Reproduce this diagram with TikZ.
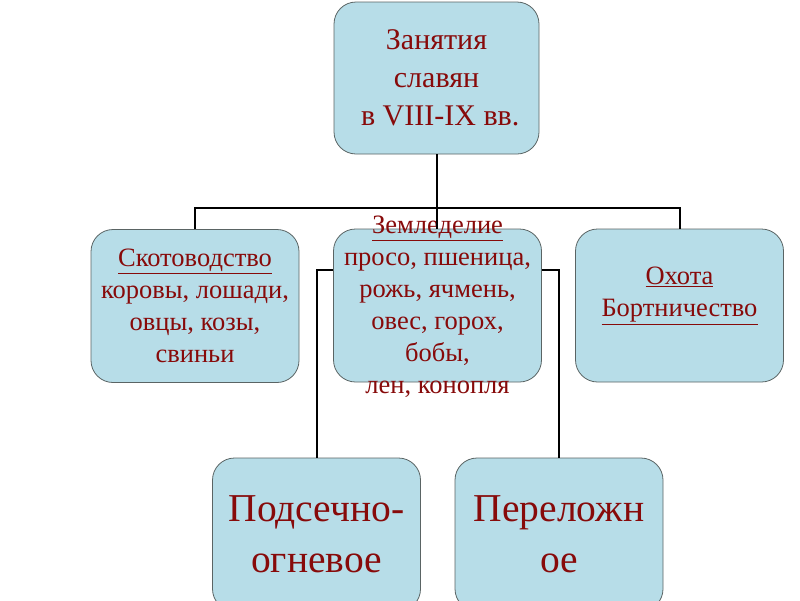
\documentclass[tikz,border=0pt]{standalone}
\usepackage{fontspec}
\setmainfont{Liberation Serif}
\definecolor{boxfill}{RGB}{183,221,232}
\definecolor{boxline}{RGB}{90,100,100}
\definecolor{darkred}{RGB}{135,10,10}
\begin{document}
\begin{tikzpicture}[x=1pt,y=-1pt,
		box/.style={draw=boxline,fill=boxfill,rounded corners=22pt,line width=0.8pt,
			minimum width=208pt,minimum height=153pt,text=darkred,align=center,inner sep=0pt},
		words/.style={text=darkred,align=center,inner sep=0pt},
		link/.style={black,line width=2pt}]
		\useasboundingbox (0,0) rectangle (800,600);
		\clip (0,0) rectangle (800,600);
		% top
		\node [box,minimum width=205pt,minimum height=152pt,font=\fontsize{30}{38}\selectfont] (top) at (436.5,78) {Занятия\\славян\\\ в VIII-IX вв.};
		% second row
		\node [box,font=\fontsize{26.5}{32}\selectfont] (cattle) at (195,306) {\underline{Скотоводство}\\коровы, лошади,\\овцы, козы,\\свиньи};
		\node [box] (farm) at (437.5,305.5) {};
		\node [box] (hunt) at (679.5,305.5) {};
		% third row
		\node [box,font=\fontsize{39.5}{51}\selectfont] (slash) at (316.5,534.5) {Подсечно-\\огневое};
		\node [box,font=\fontsize{39.5}{51}\selectfont] (fallow) at (559,534.5) {Переложн\\ое};
		% texts over the boxes
		\node [words,font=\fontsize{26.5}{32}\selectfont] (farmtext) at (437.5,307) {\underline{Земледелие}\\просо, пшеница,\\рожь, ячмень,\\овес, горох,\\бобы,\\лен, конопля};
		\node [words,font=\fontsize{26.5}{32}\selectfont] (hunttext) at (679.5,296) {\underline{Охота}\\\underline{Бортничество}};
		% links
		\draw [link] (top.south) -- (top.south |- farm.north);
		\draw [link] (cattle.north) -- ++(0,-21) -| (hunt.north);
		\draw [link] ([yshift=36pt]farm.west) -| (slash.north);
		\draw [link] ([yshift=36pt]farm.east) -| (fallow.north);
	\end{tikzpicture}
\end{document}
